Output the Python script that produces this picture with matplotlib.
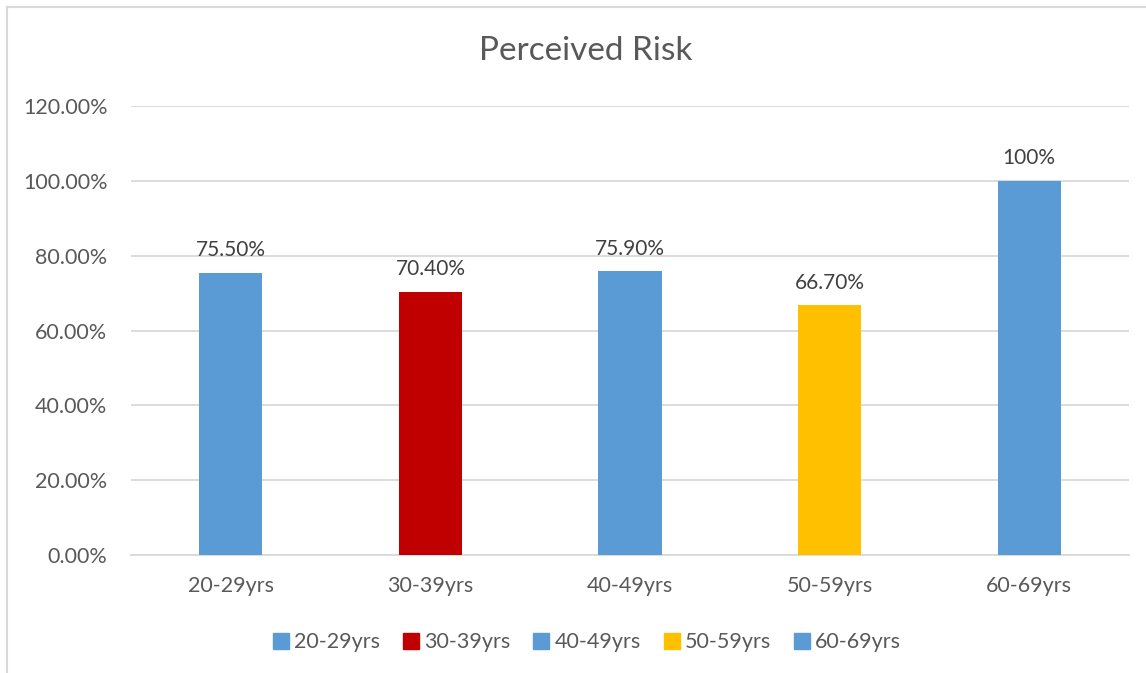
import matplotlib.pyplot as plt
from matplotlib.ticker import PercentFormatter
from matplotlib.lines import Line2D

plt.rcParams['font.family'] = ['Lato', 'DejaVu Sans']

groups = ['20-29yrs', '30-39yrs', '40-49yrs', '50-59yrs', '60-69yrs']
values = [75.5, 70.4, 75.9, 66.7, 100.0]
labels = ['75.50%', '70.40%', '75.90%', '66.70%', '100%']
colors = ['#5B9BD5', '#C00000', '#5B9BD5', '#FFC000', '#5B9BD5']

text_color = '#595959'
grid_color = '#D9D9D9'

fig = plt.figure(figsize=(11.46, 6.73), dpi=100)
ax = fig.add_axes([0.1143, 0.1753, 0.8709, 0.6672])

for i, (g, v, c, lab) in enumerate(zip(groups, values, colors, labels)):
    ax.bar(i, v, width=0.316, color=c, label=g, zorder=3)
    ax.annotate(lab, (i, v), xytext=(0, 9), textcoords='offset points',
                ha='center', va='bottom', fontsize=15, color='#404040')

ax.set_xlim(-0.5, len(groups) - 0.5)
ax.set_ylim(0, 120)
ax.set_yticks(range(0, 121, 20))
ax.yaxis.set_major_formatter(PercentFormatter(decimals=2))
ax.set_xticks(range(len(groups)))
ax.set_xticklabels(groups)
ax.grid(axis='y', color=grid_color, linewidth=1.3, zorder=0)
ax.tick_params(length=0, labelsize=15.5, labelcolor=text_color)
ax.tick_params(axis='y', pad=17)
ax.tick_params(axis='x', pad=15)
for side in ['top', 'right', 'left']:
    ax.spines[side].set_visible(False)
ax.spines['bottom'].set_color(grid_color)
ax.spines['bottom'].set_linewidth(1.3)

fig.text(0.511, 0.924, 'Perceived Risk', ha='center', va='center',
         fontsize=24, color=text_color)

handles = [Line2D([], [], marker='s', linestyle='none', markersize=12,
                  markerfacecolor=c, markeredgecolor=c) for c in colors]
fig.legend(handles, groups, loc='center', bbox_to_anchor=(0.511, 0.046),
           ncol=5, frameon=False, fontsize=15.5, labelcolor=text_color,
           handletextpad=0.1, columnspacing=0.95, handlelength=1.0)

# chart frame on the left and top edges
fig.add_artist(Line2D([0.0065, 0.0065], [0, 0.99], transform=fig.transFigure,
                      color=grid_color, linewidth=1.5))
fig.add_artist(Line2D([0.0065, 1.0], [0.99, 0.99], transform=fig.transFigure,
                      color=grid_color, linewidth=1.5))

fig.savefig('out.png', dpi=100)
